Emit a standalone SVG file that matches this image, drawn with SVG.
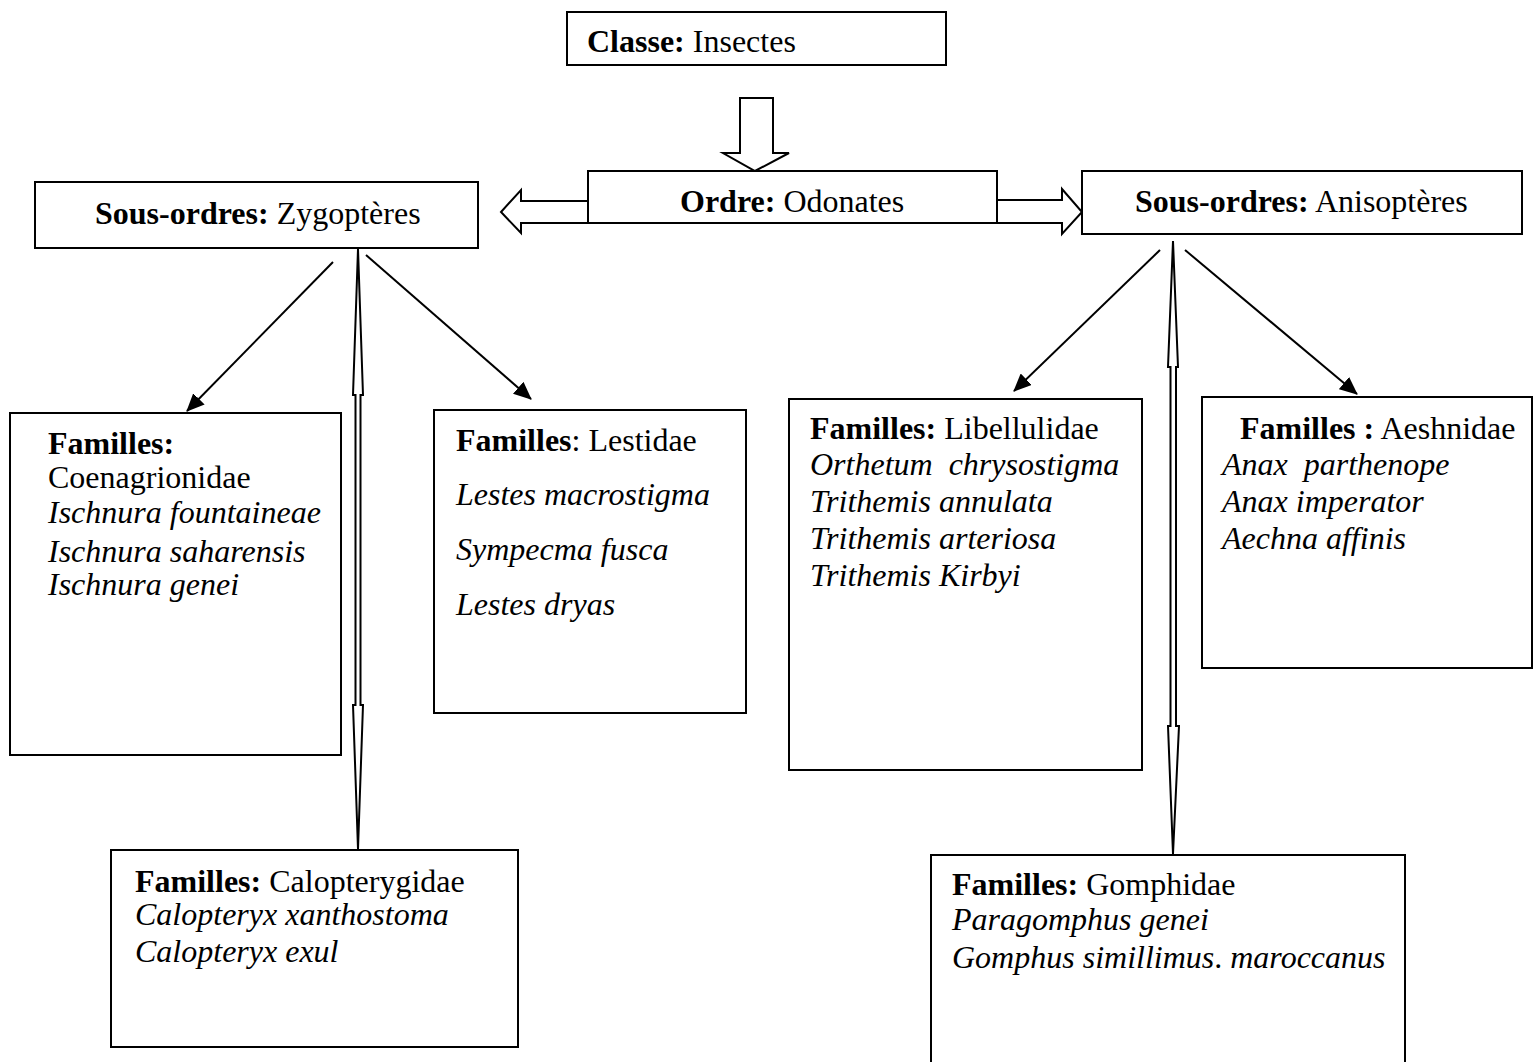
<svg xmlns="http://www.w3.org/2000/svg" width="1537" height="1062" viewBox="0 0 1537 1062">
<style>
.box{fill:#fff;stroke:#000;stroke-width:2}
.blk{fill:#fff;stroke:#000;stroke-width:2;stroke-linejoin:miter}
.ln{stroke:#000;stroke-width:2;fill:none}
text{font-family:"Liberation Serif","Times New Roman",serif;font-size:32px;fill:#000}
.b{font-weight:bold}
.i{font-style:italic}
</style>
<defs>
<marker id="ah" markerWidth="18" markerHeight="16" refX="17" refY="8" orient="auto" markerUnits="userSpaceOnUse" viewBox="0 0 18 16">
<path d="M0,0 L18,8 L0,16 z" fill="#000"/>
</marker>
</defs>
<rect width="1537" height="1062" fill="#fff"/>
<g id="connectors">
<path class="blk" d="M740,98 L773,98 L773,153 L789,153 L755,171 L723,153 L740,153 z"/>
<path class="blk" d="M588,201 L521,201 L521,190 L501,212 L521,233 L521,223 L588,223 z"/>
<path class="blk" d="M997,200 L1062,200 L1062,189 L1082,212 L1062,234 L1062,223 L997,223 z"/>
<line class="ln" x1="333" y1="262" x2="187" y2="411" marker-end="url(#ah)"/>
<line class="ln" x1="366" y1="255" x2="531" y2="399" marker-end="url(#ah)"/>
<line class="ln" x1="1160" y1="250" x2="1014" y2="391" marker-end="url(#ah)"/>
<line class="ln" x1="1185" y1="250" x2="1357" y2="394" marker-end="url(#ah)"/>
<path class="blk" stroke-width="1.6" d="M358,249 L363,395 L360.5,395 L360.5,705 L363,705 L358,849 L353,705 L355.5,705 L355.5,395 L353,395 z"/>
<path class="blk" stroke-width="1.6" d="M1173,241 L1178,367 L1176,367 L1176,726 L1179,726 L1173,854 L1168,726 L1170.5,726 L1170.5,367 L1168,367 z"/>
</g>
<g id="classe">
<rect class="box" x="567" y="12" width="379" height="53"/>
<text x="587" y="52"><tspan class="b">Classe:</tspan> Insectes</text>
</g>
<g id="ordre">
<rect class="box" x="588" y="171" width="409" height="52"/>
<text x="680" y="212"><tspan class="b">Ordre:</tspan> Odonates</text>
</g>
<g id="zygopteres">
<rect class="box" x="35" y="182" width="443" height="66"/>
<text x="95" y="224"><tspan class="b">Sous-ordres:</tspan> Zygoptères</text>
</g>
<g id="anisopteres">
<rect class="box" x="1082" y="171" width="440" height="63"/>
<text x="1135" y="212"><tspan class="b">Sous-ordres:</tspan> Anisoptères</text>
</g>
<g id="coenagrionidae">
<rect class="box" x="10" y="413" width="331" height="342"/>
<text x="48" y="454" class="b">Familles:</text>
<text x="48" y="488">Coenagrionidae</text>
<text x="48" y="523" class="i">Ischnura fountaineae</text>
<text x="48" y="562" class="i">Ischnura saharensis</text>
<text x="48" y="595" class="i">Ischnura genei</text>
</g>
<g id="lestidae">
<rect class="box" x="434" y="410" width="312" height="303"/>
<text x="456" y="451"><tspan class="b">Familles</tspan>: Lestidae</text>
<text x="456" y="505" class="i">Lestes macrostigma</text>
<text x="456" y="560" class="i">Sympecma fusca</text>
<text x="456" y="615" class="i">Lestes dryas</text>
</g>
<g id="libellulidae">
<rect class="box" x="789" y="399" width="353" height="371"/>
<text x="810" y="439"><tspan class="b">Familles:</tspan> Libellulidae</text>
<text x="810" y="475" class="i" xml:space="preserve">Orthetum  chrysostigma</text>
<text x="810" y="512" class="i">Trithemis annulata</text>
<text x="810" y="549" class="i">Trithemis arteriosa</text>
<text x="810" y="586" class="i">Trithemis Kirbyi</text>
</g>
<g id="aeshnidae">
<rect class="box" x="1202" y="397" width="330" height="271"/>
<text x="1240" y="439"><tspan class="b">Familles :</tspan> Aeshnidae</text>
<text x="1222" y="475" class="i" xml:space="preserve">Anax  parthenope</text>
<text x="1222" y="512" class="i">Anax imperator</text>
<text x="1222" y="549" class="i">Aechna affinis</text>
</g>
<g id="calopterygidae">
<rect class="box" x="111" y="850" width="407" height="197"/>
<text x="135" y="892"><tspan class="b">Familles:</tspan> Calopterygidae</text>
<text x="135" y="925" class="i">Calopteryx xanthostoma</text>
<text x="135" y="962" class="i">Calopteryx exul</text>
</g>
<g id="gomphidae">
<rect class="box" x="931" y="855" width="474" height="215"/>
<text x="952" y="895"><tspan class="b">Familles:</tspan> Gomphidae</text>
<text x="952" y="930" class="i">Paragomphus genei</text>
<text x="952" y="968"><tspan class="i">Gomphus simillimus</tspan>. <tspan class="i">maroccanus</tspan></text>
</g>
</svg>
